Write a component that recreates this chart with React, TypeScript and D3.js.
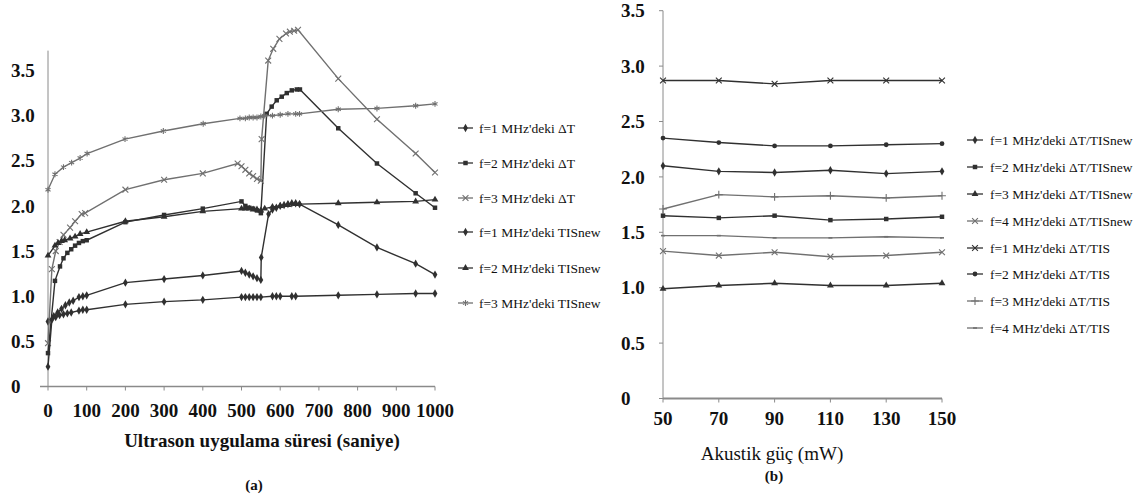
import React from 'react';
import * as d3 from 'd3';

// ---------- Chart (a) data ----------
const xTicksA = [0, 100, 200, 300, 400, 500, 600, 700, 800, 900, 1000];
const yTicksA = [0, 0.5, 1.0, 1.5, 2.0, 2.5, 3.0, 3.5];
const yTickLabelsA = ['0', '0.5', '1.0', '1.5', '2.0', '2.5', '3.0', '3.5'];

const f1dT_t = [0, 15, 25, 35, 45, 55, 65, 80, 90, 100, 200, 300, 400, 500, 510, 520, 530, 540, 550, 551, 570, 580, 590, 600, 610, 620, 630, 640, 650, 750, 850, 950, 1000];
const f1dT_v = [0.72, 0.78, 0.82, 0.86, 0.9, 0.93, 0.95, 0.99, 1.0, 1.01, 1.15, 1.19, 1.23, 1.28, 1.26, 1.24, 1.22, 1.2, 1.18, 1.43, 1.91, 1.96, 1.98, 2.0, 2.01, 2.02, 2.03, 2.03, 2.02, 1.79, 1.54, 1.36, 1.24];

const f2dT_t = [0, 18, 31, 40, 50, 60, 70, 80, 90, 100, 200, 300, 400, 500, 510, 520, 530, 540, 550, 565, 578, 591, 604, 617, 630, 643, 651, 750, 850, 950, 1000];
const f2dT_v = [0.37, 1.17, 1.33, 1.42, 1.48, 1.52, 1.56, 1.59, 1.61, 1.62, 1.82, 1.9, 1.97, 2.05, 2.0, 1.98, 1.97, 1.95, 1.92, 3.02, 3.1, 3.17, 3.21, 3.25, 3.28, 3.29, 3.29, 2.86, 2.47, 2.14, 1.98];

const f3dT_t = [0, 10, 20, 30, 40, 57, 70, 87, 96, 200, 300, 400, 490, 500, 510, 520, 530, 540, 550, 552, 569, 582, 598, 615, 625, 636, 646, 750, 850, 950, 1000];
const f3dT_v = [0.48, 1.3, 1.5, 1.6, 1.68, 1.76, 1.83, 1.91, 1.92, 2.18, 2.29, 2.36, 2.47, 2.44, 2.4, 2.36, 2.33, 2.3, 2.28, 2.74, 3.61, 3.74, 3.85, 3.91, 3.93, 3.94, 3.95, 3.41, 2.96, 2.58, 2.37];

const f1TISnew_t = [0, 10, 20, 30, 40, 50, 60, 80, 90, 100, 200, 300, 400, 500, 510, 520, 530, 540, 550, 580, 590, 600, 630, 640, 750, 850, 950, 1000];
const f1TISnew_v = [0.22, 0.74, 0.77, 0.79, 0.8, 0.81, 0.82, 0.84, 0.85, 0.85, 0.91, 0.94, 0.96, 0.99, 0.99, 0.99, 0.99, 0.99, 0.99, 1.0, 1.0, 1.0, 1.0, 1.0, 1.01, 1.02, 1.03, 1.03];

const f2TISnew_t = [0, 18, 26, 35, 43, 57, 70, 83, 100, 200, 300, 400, 500, 510, 520, 530, 540, 550, 560, 580, 600, 620, 640, 650, 750, 850, 950, 1000];
const f2TISnew_v = [1.45, 1.56, 1.59, 1.61, 1.62, 1.64, 1.66, 1.69, 1.71, 1.83, 1.88, 1.94, 1.97, 1.97, 1.97, 1.96, 1.96, 1.95, 1.97, 1.99, 2.0, 2.01, 2.02, 2.02, 2.03, 2.04, 2.05, 2.07];

const f3TISnew_t = [0, 18, 40, 61, 83, 101, 199, 298, 401, 496, 510, 520, 530, 540, 550, 560, 580, 600, 620, 640, 650, 750, 850, 950, 1000];
const f3TISnew_v = [2.18, 2.35, 2.43, 2.48, 2.53, 2.58, 2.74, 2.83, 2.91, 2.97, 2.97, 2.98, 2.98, 2.98, 2.99, 3.0, 3.0, 3.01, 3.02, 3.02, 3.02, 3.07, 3.08, 3.11, 3.13];

const legendA = ["f=1 MHz'deki ΔT", "f=2 MHz'deki ΔT", "f=3 MHz'deki ΔT", "f=1 MHz'deki TISnew", "f=2 MHz'deki TISnew", "f=3 MHz'deki TISnew"];

// ---------- Chart (b) data ----------
const powerLevels = [50, 70, 90, 110, 130, 150];
const xTickLabelsB = ['50', '70', '90', '110', '130', '150'];
const yTicksB = [0, 0.5, 1.0, 1.5, 2.0, 2.5, 3.0, 3.5];
const yTickLabelsB = ['0', '0.5', '1.0', '1.5', '2.0', '2.5', '3.0', '3.5'];

const b_f1_TISnew = [2.10, 2.05, 2.04, 2.06, 2.03, 2.05];
const b_f2_TISnew = [1.65, 1.63, 1.65, 1.61, 1.62, 1.64];
const b_f3_TISnew = [0.99, 1.02, 1.04, 1.02, 1.02, 1.04];
const b_f4_TISnew = [1.33, 1.29, 1.32, 1.28, 1.29, 1.32];
const b_f1_TIS = [2.87, 2.87, 2.84, 2.87, 2.87, 2.87];
const b_f2_TIS = [2.35, 2.31, 2.28, 2.28, 2.29, 2.30];
const b_f3_TIS = [1.71, 1.84, 1.82, 1.83, 1.81, 1.83];
const b_f4_TIS = [1.47, 1.47, 1.45, 1.45, 1.46, 1.45];

const legendB = ["f=1 MHz'deki ΔT/TISnew", "f=2 MHz'deki ΔT/TISnew", "f=3 MHz'deki ΔT/TISnew", "f=4 MHz'deki ΔT/TISnew", "f=1 MHz'deki ΔT/TIS", "f=2 MHz'deki ΔT/TIS", "f=3 MHz'deki ΔT/TIS", "f=4 MHz'deki ΔT/TIS"];

const SERIF = '"Liberation Serif", "Times New Roman", Times, serif';
const DARK = '#303030';
const GRAY = '#707070';
const AXIS = '#8a8a8a';

type MarkerType = 'diamond' | 'square' | 'triangle' | 'times' | 'asterisk' | 'circle' | 'plus' | 'dash';

function Marker({ type, x, y, color }: { type: MarkerType; x: number; y: number; color: string }) {
  let sym: any = null;
  let size = 22;
  let filled = true;
  switch (type) {
    case 'diamond': sym = d3.symbolDiamond; size = 20; break;
    case 'square': sym = d3.symbolSquare; size = 20; break;
    case 'triangle': sym = d3.symbolTriangle; size = 20; break;
    case 'circle': sym = d3.symbolCircle; size = 18; break;
    case 'times': sym = d3.symbolTimes; size = 24; filled = false; break;
    case 'asterisk': sym = d3.symbolAsterisk; size = 24; filled = false; break;
    case 'plus': sym = d3.symbolPlus; size = 22; filled = false; break;
    case 'dash': return <line x1={x - 2} x2={x + 2} y1={y} y2={y} stroke={color} strokeWidth={1.6} />;
  }
  const d = d3.symbol(sym, size)() as string;
  return filled
    ? <path d={d} transform={`translate(${x},${y})`} fill={color} />
    : <path d={d} transform={`translate(${x},${y})`} fill="none" stroke={color} strokeWidth={1.1} />;
}

const tStyle = { fontFamily: SERIF };

export default function App() {
  const xA = d3.scaleLinear().domain([0, 1000]).range([48, 435]);
  const yA = d3.scaleLinear().domain([0, 3.5]).range([386.5, 70.5]);
  const yAxisTopA = 3.72;

  const xB = d3.scaleLinear().domain([50, 150]).range([663, 942]);
  const yB = d3.scaleLinear().domain([0, 3.5]).range([398.5, 10.7]);

  const seriesA = [
    { t: f1dT_t, v: f1dT_v, marker: 'diamond' as MarkerType, color: DARK },
    { t: f2dT_t, v: f2dT_v, marker: 'square' as MarkerType, color: DARK },
    { t: f3dT_t, v: f3dT_v, marker: 'times' as MarkerType, color: GRAY },
    { t: f1TISnew_t, v: f1TISnew_v, marker: 'diamond' as MarkerType, color: DARK },
    { t: f2TISnew_t, v: f2TISnew_v, marker: 'triangle' as MarkerType, color: DARK },
    { t: f3TISnew_t, v: f3TISnew_v, marker: 'asterisk' as MarkerType, color: GRAY },
  ];

  const seriesB = [
    { v: b_f1_TISnew, marker: 'diamond' as MarkerType, color: DARK },
    { v: b_f2_TISnew, marker: 'square' as MarkerType, color: DARK },
    { v: b_f3_TISnew, marker: 'triangle' as MarkerType, color: DARK },
    { v: b_f4_TISnew, marker: 'times' as MarkerType, color: GRAY },
    { v: b_f1_TIS, marker: 'times' as MarkerType, color: DARK },
    { v: b_f2_TIS, marker: 'circle' as MarkerType, color: DARK },
    { v: b_f3_TIS, marker: 'plus' as MarkerType, color: GRAY },
    { v: b_f4_TIS, marker: 'dash' as MarkerType, color: GRAY },
  ];

  const lineA = d3.line<[number, number]>().x(d => xA(d[0])).y(d => yA(d[1]));
  const lineB = d3.line<[number, number]>().x(d => xB(d[0])).y(d => yB(d[1]));

  const legendAy = [128, 163, 198, 232, 268, 303];
  const legendBy = [140, 167, 194, 221, 248, 274, 301, 328];

  return (
    <svg width={1143} height={500} style={{ position: 'absolute', left: 0, top: 0, background: '#fff', fontFamily: SERIF }}>
      <rect x={0} y={0} width={1143} height={500} fill="#fff" />

      {/* ===== Chart (a) ===== */}
      <line x1={xA(0)} x2={xA(0)} y1={yA(0)} y2={yA(yAxisTopA)} stroke={AXIS} strokeWidth={1} />
      <line x1={xA(0) - 8} x2={xA(1000)} y1={yA(0)} y2={yA(0)} stroke={AXIS} strokeWidth={1.5} />
      {xTicksA.map(t => (
        <line key={'xta' + t} x1={xA(t)} x2={xA(t)} y1={yA(0)} y2={yA(0) + 4} stroke={AXIS} strokeWidth={1} />
      ))}
      {yTicksA.map((v, i) => (
        <text key={'yla' + v} x={11} y={yA(v)} dy="0.35em" fontSize={19} fontWeight="bold" fill="#111" style={tStyle}>{yTickLabelsA[i]}</text>
      ))}
      {xTicksA.map(t => (
        <text key={'xla' + t} x={xA(t)} y={410} dy="0.35em" textAnchor="middle" fontSize={19} fontWeight="bold" fill="#111" style={tStyle}>{String(t)}</text>
      ))}
      <text x={262} y={440} dy="0.35em" textAnchor="middle" fontSize={19} fontWeight="bold" fill="#111" style={tStyle}>Ultrason uygulama süresi (saniye)</text>
      <text x={254} y={485} dy="0.35em" textAnchor="middle" fontSize={15} fontWeight="bold" fill="#111" style={tStyle}>(a)</text>

      {seriesA.map((s, si) => {
        const pts: [number, number][] = s.t.map((t, i) => [t, s.v[i]]);
        return (
          <g key={'sa' + si}>
            <path d={lineA(pts) as string} fill="none" stroke={s.color} strokeWidth={1.4} />
            {pts.map((p, i) => <Marker key={i} type={s.marker} x={xA(p[0])} y={yA(p[1])} color={s.color} />)}
          </g>
        );
      })}

      {legendA.map((label, i) => (
        <g key={'lga' + i}>
          <line x1={458} x2={473} y1={legendAy[i]} y2={legendAy[i]} stroke={seriesA[i].color} strokeWidth={1.3} />
          <Marker type={seriesA[i].marker} x={465.5} y={legendAy[i]} color={seriesA[i].color} />
          <text x={479} y={legendAy[i]} dy="0.35em" fontSize={13.5} fill="#111" style={tStyle}>{label}</text>
        </g>
      ))}

      {/* ===== Chart (b) ===== */}
      <line x1={xB(50)} x2={xB(50)} y1={yB(0)} y2={yB(3.5)} stroke={AXIS} strokeWidth={1} />
      <line x1={xB(50)} x2={xB(150)} y1={yB(0)} y2={yB(0)} stroke={AXIS} strokeWidth={1.8} />
      {yTicksB.map(v => (
        <line key={'ytb' + v} x1={xB(50) - 4} x2={xB(50)} y1={yB(v)} y2={yB(v)} stroke={AXIS} strokeWidth={1} />
      ))}
      {powerLevels.map(p => (
        <line key={'xtb' + p} x1={xB(p)} x2={xB(p)} y1={yB(0)} y2={yB(0) + 4} stroke={AXIS} strokeWidth={1} />
      ))}
      {yTicksB.map((v, i) => (
        <text key={'ylb' + v} x={621} y={yB(v)} dy="0.35em" fontSize={19} fontWeight="bold" fill="#111" style={tStyle}>{yTickLabelsB[i]}</text>
      ))}
      {powerLevels.map((p, i) => (
        <text key={'xlb' + p} x={xB(p)} y={418} dy="0.35em" textAnchor="middle" fontSize={19} fontWeight="bold" fill="#111" style={tStyle}>{xTickLabelsB[i]}</text>
      ))}
      <text x={772} y={453} dy="0.35em" textAnchor="middle" fontSize={19} fill="#111" style={tStyle}>Akustik güç (mW)</text>
      <text x={774} y={476} dy="0.35em" textAnchor="middle" fontSize={15} fontWeight="bold" fill="#111" style={tStyle}>(b)</text>

      {seriesB.map((s, si) => {
        const pts: [number, number][] = powerLevels.map((p, i) => [p, s.v[i]]);
        return (
          <g key={'sb' + si}>
            <path d={lineB(pts) as string} fill="none" stroke={s.color} strokeWidth={1.4} />
            {pts.map((p, i) => <Marker key={i} type={s.marker} x={xB(p[0])} y={yB(p[1])} color={s.color} />)}
          </g>
        );
      })}

      {legendB.map((label, i) => (
        <g key={'lgb' + i}>
          <line x1={967} x2={983} y1={legendBy[i]} y2={legendBy[i]} stroke={seriesB[i].color} strokeWidth={1.3} />
          <Marker type={seriesB[i].marker} x={975} y={legendBy[i]} color={seriesB[i].color} />
          <text x={990} y={legendBy[i]} dy="0.35em" fontSize={13.5} fill="#111" style={tStyle}>{label}</text>
        </g>
      ))}
    </svg>
  );
}
